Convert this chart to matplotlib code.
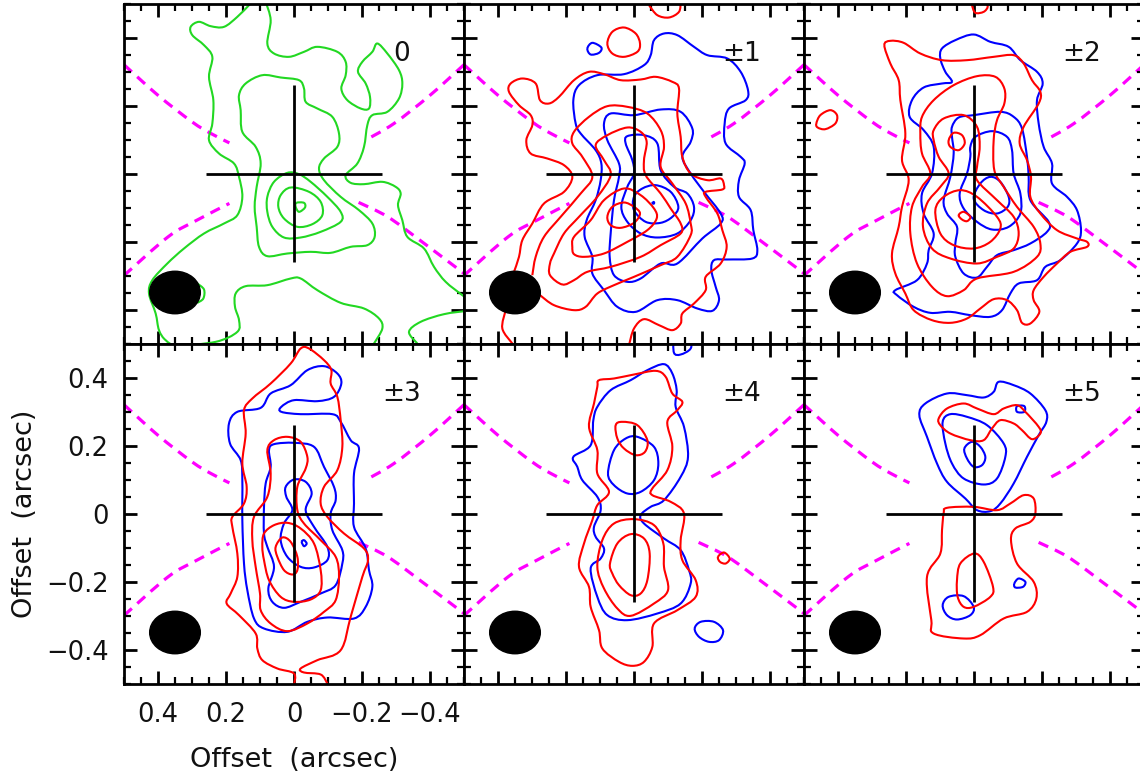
import numpy as np
import matplotlib
matplotlib.use("Agg")
import matplotlib.pyplot as plt
from matplotlib.patches import Ellipse, PathPatch
from matplotlib.path import Path

# contour vertices are offsets (x, y) in units of 1/1020 arcsec
UNIT = 1020.0

# channel 0
g0_a = [(125,515),(135,505),(170,470),(210,440),(250,442),(285,455),(310,440),(305,415),(270,385),(245,350),(255,290),(242,220),(245,150),(255,100),(225,60),(180,30),(165,-10),(155,-70),(170,-125),(210,-150),(270,-180),(330,-225),(380,-270),(425,-320),(435,-360),(415,-420),(405,-470),(385,-500),(350,-515),(235,-505),(170,-475),(165,-440),(177,-400),(175,-360),(145,-338),(80,-335),(10,-315),(-20,-315),(-70,-350),(-140,-388),(-210,-405),(-255,-435),(-265,-465),(-240,-510)]
g0_b = [(85,515),(70,460),(80,390),(60,360),(15,350),(-30,365),(-70,380),(-130,365),(-155,335),(-155,295),(-142,255),(-160,220),(-200,195),(-225,195),(-228,230),(-215,270),(-192,305),(-205,335),(-235,365),(-250,390),(-280,360),(-315,310),(-325,270),(-315,225),(-280,185),(-235,175),(-220,145),(-210,80),(-190,30),(-155,-5),(-170,-28),(-210,-32),(-265,-25),(-305,-40),(-320,-60),(-312,-95),(-325,-140),(-340,-190),(-390,-225),(-420,-280),(-455,-325),(-505,-365),(-525,-380)]
g0_c = [(-520,-412),(-450,-422),(-380,-445),(-345,-475),(-370,-510)]
g0_d = [(290,-330),(270,-348),(272,-375),(290,-388)]
g0_1 = [(95,295),(40,288),(-15,280),(-30,255),(-35,215),(-70,195),(-115,170),(-135,120),(-130,80),(-90,45),(-75,15),(-90,-20),(-140,-70),(-195,-110),(-235,-150),(-242,-190),(-220,-215),(-170,-220),(-110,-238),(-50,-235),(20,-240),(80,-248),(105,-220),(112,-160),(118,-100),(112,-40),(100,30),(115,80),(155,125),(160,190),(165,235),(145,270)]
g0_2 = [(20,2),(60,-25),(80,-70),(80,-115),(65,-160),(30,-192),(-20,-192),(-80,-175),(-140,-145),(-140,-115),(-100,-70),(-50,-25),(-15,-2)]
g0_3 = [(10,-42),(40,-65),(47,-100),(30,-135),(-10,-160),(-55,-152),(-85,-125),(-80,-85),(-45,-55)]
g0_4 = [(-7,-88),(-30,-88),(-33,-102),(-15,-115),(-5,-100)]

# channel +-1
r1_top = [(-45,505),(-70,475),(-105,468),(-135,485),(-140,515)]
b1_small = [(140,375),(125,392),(98,378),(105,362),(130,357)]
r1_circle = [(80,390),(65,425),(30,438),(-5,420),(-18,390),(-10,365),(30,350),(65,360)]
b1_1 = [(-60,400),(-90,420),(-130,415),(-180,380),(-220,355),(-280,345),(-320,305),(-342,250),(-335,220),(-285,195),(-272,150),(-275,90),(-320,50),(-332,30),(-315,-20),(-315,-70),(-350,-110),(-358,-170),(-370,-230),(-355,-255),(-280,-258),(-240,-260),(-232,-290),(-245,-340),(-255,-380),(-235,-412),(-190,-405),(-130,-380),(-70,-380),(-5,-415),(50,-400),(90,-350),(125,-300),(125,-250),(148,-190),(142,-140),(115,-80),(100,-20),(98,30),(115,70),(160,120),(175,150),(182,220),(165,265),(110,295),(30,298),(-30,325),(-50,355)]
b1_2 = [(-210,-55),(-260,-120),(-260,-150),(-205,-195),(-130,-270),(-80,-270),(-20,-315),(20,-325),(60,-305),(73,-250),(70,-180),(60,-80),(45,-10),(45,30),(80,100),(90,150),(70,180),(0,175),(-80,192),(-140,185),(-175,135),(-170,95),(-145,50),(-170,0)]
b1_3 = [(25,90),(20,112),(-30,115),(-70,90),(-80,10),(-120,-40),(-160,-60),(-180,-100),(-170,-140),(-130,-180),(-70,-192),(-20,-180),(20,-145),(38,-100),(20,-40),(0,0),(5,40)]
b1_4 = [(0,-70),(-25,-45),(-65,-35),(-110,-55),(-133,-100),(-115,-130),(-80,-148),(-35,-145),(0,-110)]
b1_5 = [(-56,-86),(-60,-86),(-60,-90),(-56,-90)]
r1_1 = [(360,-295),(345,-250),(335,-200),(305,-150),(270,-90),(210,-55),(185,-10),(210,25),(260,45),(310,60),(323,100),(305,145),(310,175),(345,205),(375,245),(370,270),(335,285),(295,270),(282,220),(255,210),(225,230),(180,280),(135,305),(90,298),(40,280),(-20,282),(-65,290),(-115,275),(-135,255),(-130,180),(-140,110),(-145,50),(-170,0),(-220,-20),(-260,-15),(-270,-35),(-265,-48),(-215,-55),(-215,-70),(-250,-120),(-265,-170),(-278,-220),(-260,-270),(-215,-310),(-215,-350),(-180,-390),(-145,-420),(-140,-450),(-115,-470),(-75,-455),(-30,-437),(0,-465),(15,-515)]
r1_low = [(385,-410),(395,-465),(365,-510)]
r1_2 = [(305,-305),(295,-250),(270,-190),(220,-130),(160,-60),(125,-10),(155,50),(185,90),(180,125),(135,170),(80,202),(20,200),(-40,180),(-80,130),(-90,80),(-80,20),(-115,-30),(-155,-90),(-170,-150),(-170,-185),(-130,-250),(-80,-275),(0,-310),(60,-335),(110,-360),(145,-400),(180,-410),(240,-395),(282,-365)]
r1_3 = [(215,-333),(252,-305),(252,-270),(240,-240),(210,-180),(165,-130),(110,-70),(70,-5),(90,40),(115,85),(80,115),(20,138),(-20,125),(-38,95),(-30,40),(-35,-5),(-80,-60),(-110,-105),(-140,-150),(-140,-180),(-80,-215),(-20,-250),(70,-280),(140,-295),(180,-320)]
r1_4 = [(185,-220),(180,-190),(130,-140),(90,-80),(30,-45),(-20,-65),(-60,-105),(-68,-135),(-40,-170),(20,-205),(90,-240),(150,-250),(180,-242)]
r1_5 = [(80,-130),(65,-100),(30,-87),(0,-100),(-18,-120),(0,-148),(40,-163),(70,-155)]

# channel +-2
b2_1 = [(66,275),(86,305),(101,345),(96,375),(56,400),(1,417),(-49,395),(-104,380),(-139,340),(-189,305),(-206,270),(-189,220),(-194,150),(-209,80),(-234,30),(-234,-30),(-279,-70),(-309,-110),(-321,-170),(-309,-210),(-259,-260),(-214,-280),(-189,-320),(-134,-330),(-109,-360),(-84,-410),(-49,-430),(11,-425),(71,-415),(131,-418),(181,-400),(231,-365),(236,-350),(171,-320),(141,-270),(136,-230),(121,-180),(151,-120),(156,-60),(126,0),(121,80),(151,130),(193,170),(186,220),(151,258),(96,270)]
b2_2 = [(66,140),(46,168),(1,175),(-79,185),(-119,170),(-144,135),(-159,50),(-164,-10),(-169,-80),(-224,-145),(-219,-175),(-169,-210),(-119,-230),(-69,-245),(-39,-280),(-9,-312),(31,-300),(56,-250),(56,-210),(51,-160),(81,-120),(91,-80),(71,-10),(61,60),(66,110)]
b2_3 = [(11,80),(-4,110),(-54,127),(-99,110),(-114,70),(-119,0),(-139,-60),(-139,-120),(-104,-160),(-54,-168),(-9,-145),(31,-105),(43,-60),(21,0),(11,50)]
b2_4 = [(-49,-10),(-79,-25),(-104,-70),(-101,-100),(-69,-120),(-29,-110),(1,-75),(-19,-30)]
r2_top = [(6,515),(6,505),(-4,482),(-29,485),(-41,500),(-34,515)]
r2_1 = [(269,385),(251,398),(211,392),(161,360),(96,340),(21,340),(-59,350),(-119,355),(-149,330),(-174,280),(-199,245),(-194,210),(-149,140),(-137,90),(-159,40),(-171,-10),(-169,-70),(-199,-120),(-249,-170),(-309,-195),(-339,-205),(-339,-220),(-289,-235),(-249,-270),(-209,-310),(-179,-350),(-179,-380),(-196,-415),(-169,-450),(-144,-448),(-129,-410),(-99,-380),(-59,-377),(-19,-405),(21,-435),(71,-448),(126,-440),(181,-410),(206,-360),(236,-300),(246,-240),(226,-160),(216,-100),(196,-20),(216,40),(206,120),(221,220),(226,280),(251,330)]
r2_2 = [(156,170),(121,220),(61,265),(-9,292),(-64,290),(-91,255),(-91,210),(-69,160),(-59,100),(-61,10),(-89,-40),(-129,-100),(-179,-160),(-199,-210),(-189,-250),(-119,-295),(-9,-315),(31,-350),(81,-368),(126,-340),(171,-270),(191,-180),(186,-100),(156,-40),(131,0),(156,60),(161,120)]
r2_3 = [(121,130),(91,165),(31,175),(-9,140),(-17,80),(-9,20),(-9,-20),(-69,-80),(-119,-130),(-134,-180),(-119,-225),(-69,-250),(-9,-270),(71,-255),(126,-225),(153,-160),(141,-90),(101,-40),(76,0),(106,50),(121,100)]
r2_4 = [(116,-110),(91,-70),(41,-50),(-9,-70),(-69,-130),(-79,-165),(-49,-205),(1,-225),(61,-215),(101,-180)]
r2_5 = [(76,100),(61,122),(36,115),(28,90),(46,70),(71,80)]
r2_6 = [(46,-125),(31,-115),(11,-130),(21,-143),(36,-138)]
r2_7 = [(473,150),(461,175),(431,190),(411,175),(416,150),(446,133),(469,138)]

# channel +-3
r3_1 = [(0,-515),(0,-480),(50,-465),(95,-440),(110,-405),(115,-360),(165,-305),(202,-270),(190,-240),(170,-190),(170,-120),(185,-40),(185,-10),(150,30),(142,80),(155,150),(145,240),(150,310),(125,345),(70,390),(10,450),(-20,495),(-45,495),(-90,460),(-112,430),(-110,390),(-130,350),(-140,280),(-145,200),(-130,130),(-90,80),(-80,30),(-100,-10),(-150,-60),(-210,-105),(-222,-140),(-205,-190),(-170,-310),(-140,-410),(-70,-440),(-20,-465),(-30,-477),(-80,-483),(-100,-510)]
r3_2 = [(80,190),(60,220),(20,230),(-20,215),(-40,170),(-35,135),(-10,80),(-10,10),(-30,-30),(-80,-80),(-125,-130),(-135,-190),(-125,-260),(-90,-295),(-40,-330),(20,-353),(70,-330),(100,-290),(102,-240),(115,-160),(125,-80),(120,-10),(80,50),(70,120)]
r3_3 = [(90,-60),(60,-35),(20,-28),(-20,-45),(-60,-90),(-80,-170),(-80,-230),(-50,-258),(0,-265),(40,-250),(75,-200),(90,-140),(95,-100)]
r3_4 = [(55,-100),(35,-72),(10,-85),(-10,-130),(-10,-170),(5,-183),(30,-170),(50,-130)]
b3_1 = [(38,305),(-20,298),(-115,298),(-140,275),(-170,220),(-195,195),(-180,120),(-180,30),(-180,-40),(-215,-105),(-225,-170),(-235,-220),(-215,-280),(-180,-315),(-100,-312),(-40,-325),(20,-355),(90,-345),(120,-315),(140,-230),(150,-150),(155,-20),(155,100),(160,160),(192,210),(195,270),(170,305),(100,317),(70,360),(10,385),(-40,430),(-90,442),(-130,420),(-142,390),(-120,350),(-70,337),(0,340),(38,320)]
b3_2 = [(75,190),(60,208),(0,212),(-60,200),(-90,140),(-120,80),(-125,40),(-110,0),(-115,-50),(-145,-110),(-145,-150),(-125,-215),(-80,-240),(-20,-265),(30,-283),(65,-265),(77,-225),(60,-160),(80,-100),(90,-60),(90,20),(85,90),(70,140)]
b3_3 = [(25,80),(0,102),(-35,95),(-53,60),(-35,10),(-60,-40),(-100,-100),(-100,-140),(-60,-162),(-20,-160),(20,-130),(40,-80),(30,-30),(5,10),(23,50)]
b3_4 = [(-23,-85),(-30,-80),(-38,-90),(-30,-98)]

# channel +-4
b4_top = [(-118,530),(-120,482),(-140,477),(-170,495),(-172,530)]
b4_1 = [(182,170),(130,205),(122,280),(110,320),(70,370),(10,400),(-40,430),(-90,448),(-115,420),(-128,370),(-125,320),(-150,260),(-162,170),(-140,110),(-90,40),(-50,20),(-20,-5),(-30,-30),(-90,-75),(-140,-110),(-165,-170),(-170,-210),(-140,-270),(-70,-300),(20,-320),(80,-305),(110,-250),(130,-165),(100,-135),(90,-105),(115,-70),(120,-40),(100,10),(110,50),(155,100),(170,140)]
b4_2 = [(78,120),(60,190),(25,225),(-10,230),(-60,200),(-73,150),(-60,100),(-20,65),(20,60),(60,85)]
b4_3 = [(-182,-345),(-200,-325),(-240,-325),(-267,-350),(-255,-380),(-225,-385),(-195,-370)]
r4_1 = [(105,400),(60,405),(0,417),(-65,428),(-95,410),(-115,360),(-145,335),(-130,310),(-100,275),(-115,200),(-100,130),(-55,75),(-55,55),(-110,35),(-150,0),(-140,-80),(-145,-140),(-185,-200),(-185,-250),(-130,-290),(-60,-330),(-55,-400),(-30,-445),(5,-457),(45,-445),(95,-405),(105,-350),(130,-280),(135,-220),(165,-160),(150,-90),(125,-20),(110,25),(75,65),(110,120),(110,190),(135,260),(120,330),(110,380)]
r4_2 = [(55,265),(35,275),(-10,265),(-40,220),(-33,185),(-5,175),(30,195),(50,225)]
r4_3 = [(110,-160),(95,-80),(60,-30),(0,-17),(-60,-35),(-88,-90),(-90,-160),(-102,-230),(-60,-270),(10,-307),(50,-285),(90,-225)]
r4_4 = [(72,-150),(50,-90),(10,-62),(-30,-75),(-47,-120),(-40,-200),(-20,-240),(10,-245),(45,-215),(65,-180)]
r4_5 = [(-252,-130),(-270,-117),(-287,-135),(-275,-150),(-258,-145)]

# channel +-5
b5_1 = [(164,295),(146,330),(81,360),(21,355),(-29,348),(-59,365),(-74,395),(-119,385),(-169,360),(-214,310),(-217,275),(-194,235),(-159,170),(-119,90),(-79,30),(-49,7),(-9,10),(26,45),(81,95),(111,150),(141,230)]
b5_2 = [(94,275),(71,298),(21,290),(-39,265),(-89,210),(-94,170),(-69,105),(-29,87),(31,105),(66,150),(86,210)]
b5_3 = [(29,195),(6,215),(-19,200),(-34,170),(-24,145),(1,140),(21,165)]
b5_4 = [(94,-275),(76,-250),(31,-248),(1,-280),(11,-305),(51,-318),(81,-305)]
b5_5 = [(-121,-210),(-134,-195),(-154,-205),(-147,-220),(-124,-222)]
b5_6 = [(-129,322),(-151,322),(-151,305),(-129,305)]
r5_1 = [(106,285),(81,315),(31,330),(-9,315),(-59,298),(-89,315),(-129,325),(-154,305),(-194,260),(-199,240),(-174,223),(-144,250),(-119,270),(-79,280),(-54,255),(-29,220),(11,220),(71,240),(101,265)]
r5_2 = [(91,0),(81,17),(1,20),(-69,10),(-109,30),(-149,55),(-179,45),(-184,0),(-169,-25),(-124,-45),(-111,-80),(-129,-150),(-179,-205),(-187,-255),(-159,-295),(-89,-315),(-19,-365),(31,-375),(121,-360),(128,-320),(141,-190),(101,-120),(96,-50)]
r5_3 = [(51,-200),(41,-150),(-1,-120),(-29,-145),(-57,-220),(-49,-250),(1,-280),(31,-280),(49,-250)]

GREEN = "#22d822"
RED = "#ff0000"
BLUE = "#0000ff"

# label, [(colour, vertices, closed)]
panels = [
    ("0", [(GREEN, g0_a, False), (GREEN, g0_b, False), (GREEN, g0_c, False), (GREEN, g0_d, False),
           (GREEN, g0_1, True), (GREEN, g0_2, True), (GREEN, g0_3, True), (GREEN, g0_4, True)]),
    ("±1", [(BLUE, b1_small, True), (BLUE, b1_1, True), (BLUE, b1_2, True), (BLUE, b1_3, True),
            (BLUE, b1_4, True), (BLUE, b1_5, True), (RED, r1_top, False), (RED, r1_circle, True),
            (RED, r1_1, False), (RED, r1_low, False), (RED, r1_2, False), (RED, r1_3, True),
            (RED, r1_4, True), (RED, r1_5, True)]),
    ("±2", [(BLUE, b2_1, True), (BLUE, b2_2, True), (BLUE, b2_3, True), (BLUE, b2_4, True),
            (RED, r2_top, False), (RED, r2_1, True), (RED, r2_2, True), (RED, r2_3, True),
            (RED, r2_4, True), (RED, r2_5, True), (RED, r2_6, True), (RED, r2_7, True)]),
    ("±3", [(BLUE, b3_1, True), (BLUE, b3_2, True), (BLUE, b3_3, True), (BLUE, b3_4, True),
            (RED, r3_1, False), (RED, r3_2, True), (RED, r3_3, True), (RED, r3_4, True)]),
    ("±4", [(BLUE, b4_top, False), (BLUE, b4_1, True), (BLUE, b4_2, True), (BLUE, b4_3, True),
            (RED, r4_1, True), (RED, r4_2, True), (RED, r4_3, True), (RED, r4_4, True), (RED, r4_5, True)]),
    ("±5", [(BLUE, b5_1, True), (BLUE, b5_2, True), (BLUE, b5_3, True), (BLUE, b5_4, True),
            (BLUE, b5_5, True), (BLUE, b5_6, True), (RED, r5_1, True), (RED, r5_2, True), (RED, r5_3, True)]),
]

# dashed magenta curves, arcsec
curve_ul = [(0.50, 0.32), (0.40, 0.23), (0.30, 0.152), (0.245, 0.118), (0.19, 0.09)]
curve_ur = [(-0.50, 0.32), (-0.40, 0.23), (-0.294, 0.147), (-0.21, 0.098)]
curve_ll = [(0.50, -0.30), (0.37, -0.186), (0.285, -0.137), (0.19, -0.088)]
curve_lr = [(-0.19, -0.085), (-0.275, -0.127), (-0.37, -0.196), (-0.50, -0.294)]

ticks = [0.4, 0.2, 0, -0.2, -0.4]
tick_labels = ["0.4", "0.2", "0", "\u22120.2", "\u22120.4"]

plt.rcParams["font.family"] = "DejaVu Sans"
W, H = 1140, 781
PANEL = 340


def smooth_path(pts, closed, unit=UNIT):
    # Catmull-Rom through the read vertices, written as bezier segments
    p = np.array(pts, dtype=float) / unit
    n = len(p)
    verts = [p[0]]
    codes = [Path.MOVETO]
    for i in range(n if closed else n - 1):
        if closed:
            p0, p1, p2, p3 = p[(i - 1) % n], p[i], p[(i + 1) % n], p[(i + 2) % n]
        else:
            p0, p1, p2, p3 = p[max(i - 1, 0)], p[i], p[i + 1], p[min(i + 2, n - 1)]
        verts += [p1 + (p2 - p0) / 6, p2 - (p3 - p1) / 6, p2]
        codes += [Path.CURVE4] * 3
    return Path(verts, codes)


fig = plt.figure(figsize=(W / 100, H / 100), dpi=100)

for idx, (label, contours) in enumerate(panels):
    row, col = idx // 3, idx % 3
    left = 124 + col * PANEL
    top = 3.5 + row * PANEL
    ax = fig.add_axes([left / W, 1 - (top + PANEL) / H, PANEL / W, PANEL / H])
    ax.set_xlim(0.5, -0.5)
    ax.set_ylim(-0.5, 0.5)

    for c in [curve_ul, curve_ur, curve_ll, curve_lr]:
        ax.add_patch(PathPatch(smooth_path(c, False, 1.0), fill=False, edgecolor="#ff00ff",
                               lw=2.3, linestyle=(0, (3.3, 2.3)), zorder=1))

    for color, pts, closed in contours:
        ax.add_patch(PathPatch(smooth_path(pts, closed), fill=False, edgecolor=color, lw=1.5, zorder=2))

    ax.plot([0.26, -0.26], [0, 0], color="black", lw=2.0, solid_capstyle="butt", zorder=3)
    ax.plot([0, 0], [-0.26, 0.26], color="black", lw=2.0, solid_capstyle="butt", zorder=3)
    ax.add_patch(Ellipse((0.35, -0.35), 0.149, 0.125, color="black", zorder=4))
    ax.text(-0.316, 0.352, label, fontsize=19, ha="center", va="center", color="#111111", zorder=5)

    ax.set_xticks(ticks)
    ax.set_yticks(ticks)
    ax.set_xticks(np.arange(-0.5, 0.55, 0.05), minor=True)
    ax.set_yticks(np.arange(-0.5, 0.55, 0.05), minor=True)
    ax.tick_params(which="major", direction="in", length=9.5, width=2.0, top=True, right=True)
    ax.tick_params(which="minor", direction="in", length=4.7, width=1.6, top=True, right=True)
    for s in ax.spines.values():
        s.set_linewidth(2.0)

    if idx == 3:
        ax.set_xticklabels(tick_labels, fontsize=18.5, color="#111111")
        ax.set_yticklabels(tick_labels, fontsize=18.5, color="#111111")
        ax.tick_params(axis="x", which="major", pad=13)
        ax.tick_params(axis="y", which="major", pad=11)
        ax.set_xlabel("Offset  (arcsec)", fontsize=19.5, va="center", color="#111111")
        ax.set_ylabel("Offset  (arcsec)", fontsize=19.5, va="center", color="#111111")
        ax.xaxis.set_label_coords(0.5, -0.225)
        ax.yaxis.set_label_coords(-0.291, 0.5)
    else:
        ax.set_xticklabels([])
        ax.set_yticklabels([])

fig.savefig("out.png", dpi=100)
